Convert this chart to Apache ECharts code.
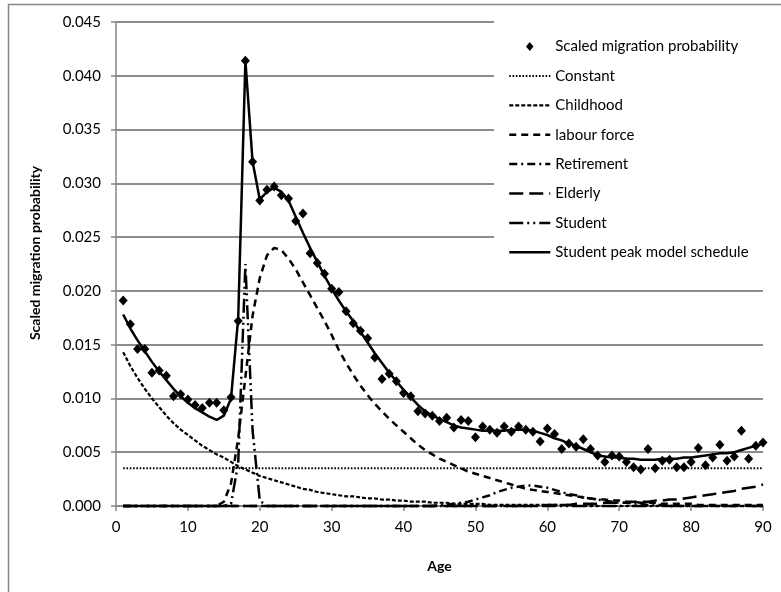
<!DOCTYPE html>
<html>
<head>
<meta charset="utf-8">
<script src="https://cdn.jsdelivr.net/npm/echarts@6/dist/echarts.min.js"></script>
<style>
html,body{margin:0;padding:0;background:#fff;}
#chart{width:781px;height:592px;}
</style>
</head>
<body>
<div id="chart"></div>
<script>
var ages = [1,2,3,4,5,6,7,8,9,10,11,12,13,14,15,16,17,18,19,20,21,22,23,24,25,26,27,28,29,30,31,32,33,34,35,36,37,38,39,40,41,42,43,44,45,46,47,48,49,50,51,52,53,54,55,56,57,58,59,60,61,62,63,64,65,66,67,68,69,70,71,72,73,74,75,76,77,78,79,80,81,82,83,84,85,86,87,88,89,90];

var observed = [0.0191,0.0169,0.0146,0.0146,0.0124,0.0126,0.0121,0.0102,0.0104,0.0099,
 0.0094,0.0091,0.0096,0.0096,0.0089,0.0101,0.0172,0.0414,0.0320,0.0284,
 0.0294,0.0297,0.0289,0.0286,0.0265,0.0272,0.0235,0.0226,0.0216,0.0202,
 0.0199,0.0181,0.0170,0.0163,0.0156,0.0138,0.0118,0.0123,0.0116,0.0105,
 0.0102,0.0088,0.0086,0.0084,0.0079,0.0082,0.0073,0.0080,0.0079,0.0064,
 0.0074,0.0071,0.0068,0.0074,0.0069,0.0074,0.0071,0.0069,0.0060,0.0072,
 0.0067,0.0053,0.0058,0.0055,0.0062,0.0053,0.0047,0.0041,0.0047,0.0046,
 0.0041,0.0036,0.0034,0.0053,0.0035,0.0042,0.0043,0.0036,0.0036,0.0041,
 0.0054,0.0038,0.0045,0.0057,0.0042,0.0046,0.0070,0.0044,0.0056,0.0059];

var constantAges = [1, 90];
var constant = [0.0035, 0.0035];

var childhood = [0.0143,0.0130,0.0119,0.0109,0.0100,0.0092,0.0084,0.0077,0.0071,0.0066,
 0.0061,0.0056,0.0052,0.0048,0.0045,0.0041,0.0037,0.0034,0.0031,0.0028,
 0.0026,0.0024,0.0022,0.0020,0.0018,0.0016,0.0015,0.0013,0.0012,0.0011,
 0.0010,0.0009,0.0009,0.0008,0.0007,0.0007,0.0006,0.0006,0.0005,0.0005,
 0.0004,0.0004,0.0004,0.0003,0.0003,0.0003,0.0002,0.0002,0.0002,0.0002,
 0.0002,0.0001,0.0001,0.0001,0.0001,0.0001,0.0001,0.0001,0.0001,0.0001,
 0.0001,0.0001,0.0001,0,0,0,0,0,0,0,
 0,0,0,0,0,0,0,0,0,0,
 0,0,0,0,0,0,0,0,0,0];

var labour = [0,0,0,0,0,0,0,0,0,0,
 0,0,0,0,0.0004,0.0021,0.0063,0.0120,0.0177,0.0212,
 0.0233,0.0240,0.0238,0.0230,0.0220,0.0208,0.0196,0.0184,0.0172,0.0159,
 0.0145,0.0133,0.0122,0.0112,0.0103,0.0095,0.0088,0.0081,0.0075,0.0069,
 0.0063,0.0057,0.0052,0.0048,0.0044,0.0041,0.0038,0.0035,0.0032,0.0030,
 0.0028,0.0026,0.0024,0.0022,0.0020,0.0018,0.0016,0.0015,0.0014,0.0013,
 0.0012,0.0011,0.0010,0.0009,0.0008,0.0007,0.0006,0.0006,0.0005,0.0005,
 0.0004,0.0004,0.0003,0.0003,0.0003,0.0002,0.0002,0.0002,0.0002,0.0002,
 0.0001,0.0001,0.0001,0.0001,0.0001,0.0001,0.0001,0.0001,0.0001,0.0001];

var retirement = [0,0,0,0,0,0,0,0,0,0,
 0,0,0,0,0,0,0,0,0,0,
 0,0,0,0,0,0,0,0,0,0,
 0,0,0,0,0,0,0,0,0,0,
 0,0,0,0,0.0001,0.0001,0.0002,0.0003,0.0004,0.0006,
 0.0008,0.0010,0.0013,0.0015,0.0017,0.0018,0.0019,0.0019,0.0018,0.0017,
 0.0015,0.0013,0.0011,0.0010,0.0008,0.0007,0.0006,0.0005,0.0004,0.0003,
 0.0003,0.0002,0.0002,0.0001,0.0001,0.0001,0,0,0,0,
 0,0,0,0,0,0,0,0,0,0];

var elderly = [0,0,0,0,0,0,0,0,0,0,
 0,0,0,0,0,0,0,0,0,0,
 0,0,0,0,0,0,0,0,0,0,
 0,0,0,0,0,0,0,0,0,0,
 0,0,0,0,0,0,0,0,0,0,
 0,0,0,0,0,0,0,0,0,0.0001,
 0.0001,0.0001,0.0001,0.0002,0.0002,0.0002,0.0002,0.0003,0.0003,0.0003,
 0.0003,0.0004,0.0004,0.0004,0.0005,0.0005,0.0006,0.0006,0.0007,0.0008,
 0.0009,0.0010,0.0011,0.0012,0.0013,0.0014,0.0016,0.0017,0.0018,0.0020];

var student = [0,0,0,0,0,0,0,0,0,0,
 0,0,0,0,0,0.0002,0.0040,0.0225,0.0070,0.0005,
 0,0,0,0,0,0,0,0,0,0,
 0,0,0,0,0,0,0,0,0,0,
 0,0,0,0,0,0,0,0,0,0,
 0,0,0,0,0,0,0,0,0,0,
 0,0,0,0,0,0,0,0,0,0,
 0,0,0,0,0,0,0,0,0,0,
 0,0,0,0,0,0,0,0,0,0];

var model = [0.0178,0.0165,0.0154,0.0144,0.0134,0.0125,0.0117,0.0109,0.0102,0.0096,
 0.0091,0.0087,0.0083,0.0080,0.0084,0.0100,0.0175,0.0414,0.0320,0.0285,
 0.0292,0.0296,0.0292,0.0284,0.0269,0.0254,0.0240,0.0227,0.0214,0.0202,
 0.0191,0.0181,0.0172,0.0162,0.0152,0.0142,0.0133,0.0124,0.0116,0.0108,
 0.0101,0.0094,0.0088,0.0084,0.0081,0.0078,0.0075,0.0073,0.0072,0.0071,
 0.0070,0.0070,0.0070,0.0070,0.0071,0.0071,0.0071,0.0070,0.0068,0.0066,
 0.0063,0.0061,0.0058,0.0056,0.0053,0.0050,0.0047,0.0046,0.0045,0.0045,
 0.0044,0.0044,0.0043,0.0043,0.0043,0.0044,0.0044,0.0044,0.0045,0.0045,
 0.0046,0.0047,0.0048,0.0049,0.0049,0.0050,0.0052,0.0054,0.0056,0.0058];

var xTicks = [0,10,20,30,40,50,60,70,80,90];
var yTicks = [0,0.005,0.01,0.015,0.02,0.025,0.03,0.035,0.04,0.045];

function pairs(xs, ys){ return xs.map(function(x,i){ return [x, ys[i]]; }); }

var FONT = 'Lato';
var chart = echarts.init(document.getElementById('chart'), null, {renderer:'canvas'});

var styles = {
  'Constant': {type: [1.6, 1.7], width: 2},
  'Childhood': {type: [4, 2], width: 2.2},
  'labour force': {type: [7, 5], width: 2.5},
  'Retirement': {type: [8, 4, 2, 4], width: 2.5},
  'Elderly': {type: [14, 6], width: 2.5},
  'Student': {type: [14, 4, 2, 4, 2, 4], width: 2.5},
  'Student peak model schedule': {type: 'solid', width: 2.5}
};

function lineSeries(name, xs, ys){
  var s = styles[name];
  return {
    name: name, type: 'line', data: pairs(xs, ys), symbol: 'none', clip: false,
    lineStyle: {color: '#000', width: s.width, type: s.type, cap: 'butt'},
    itemStyle: {color: 'rgba(0,0,0,0)'},
    emphasis: {disabled: true}, z: 3
  };
}

function legendItem(name){
  var s = styles[name];
  return {name: name, lineStyle: {color: '#000', width: s.width, type: s.type}, itemStyle: {color: 'rgba(0,0,0,0)'}};
}

chart.setOption({
  animation: false,
  backgroundColor: '#fff',
  grid: {left: 116, right: 18, top: 22, bottom: 86, containLabel: false},
  xAxis: {
    type: 'value', min: xTicks[0], max: xTicks[xTicks.length-1], interval: 10,
    name: 'Age', nameLocation: 'middle', nameGap: 53,
    nameTextStyle: {fontFamily: FONT, fontWeight: 'bold', fontSize: 14, color: '#000'},
    axisLine: {show: true, lineStyle: {color: '#868686', width: 1.5}},
    axisTick: {show: true, inside: false, length: 5, lineStyle: {color: '#868686', width: 1.5}},
    axisLabel: {fontFamily: FONT, fontSize: 15, color: '#000', margin: 14},
    splitLine: {show: false}
  },
  yAxis: {
    type: 'value', min: yTicks[0], max: yTicks[yTicks.length-1], interval: 0.005,
    name: 'Scaled migration probability', nameLocation: 'middle', nameGap: 74,
    nameTextStyle: {fontFamily: FONT, fontWeight: 'bold', fontSize: 14, color: '#000', padding: [0, 0, 0, 22]},
    axisLine: {show: true, lineStyle: {color: '#868686', width: 1.5}},
    axisTick: {show: true, inside: false, length: 5, lineStyle: {color: '#868686', width: 1.5}},
    axisLabel: {fontFamily: FONT, fontSize: 15, color: '#000', margin: 15,
      formatter: function(v){ return v.toFixed(3); }},
    splitLine: {show: true, lineStyle: {color: '#8c8c8c', width: 2}}
  },
  legend: {
    orient: 'vertical', left: 494, top: 21,
    padding: [18, 20, 14, 14],
    backgroundColor: '#fff',
    itemWidth: 41, itemHeight: 9, itemGap: 14.4,
    symbolKeepAspect: true,
    textStyle: {fontFamily: FONT, fontSize: 15, color: '#000'},
    data: [
      {name: 'Scaled migration probability', icon: 'path://M5,0L10,6L5,12L0,6Z', itemStyle: {color: '#000'}},
      legendItem('Constant'), legendItem('Childhood'), legendItem('labour force'),
      legendItem('Retirement'), legendItem('Elderly'), legendItem('Student'),
      legendItem('Student peak model schedule')
    ]
  },
  graphic: [{
    type: 'rect', shape: {x: 8.5, y: 4.5, width: 900, height: 800},
    style: {fill: 'none', stroke: '#868686', lineWidth: 1.5}, z: -10, silent: true
  }],
  series: [
    {
      name: 'Scaled migration probability', type: 'scatter', data: pairs(ages, observed),
      symbol: 'diamond', symbolSize: [9, 10], itemStyle: {color: '#000', opacity: 1}, clip: false,
      emphasis: {disabled: true}, z: 4
    },
    lineSeries('Constant', constantAges, constant),
    lineSeries('Childhood', ages, childhood),
    lineSeries('labour force', ages, labour),
    lineSeries('Retirement', ages, retirement),
    lineSeries('Elderly', ages, elderly),
    lineSeries('Student', ages, student),
    lineSeries('Student peak model schedule', ages, model)
  ]
});
</script>
</body>
</html>
